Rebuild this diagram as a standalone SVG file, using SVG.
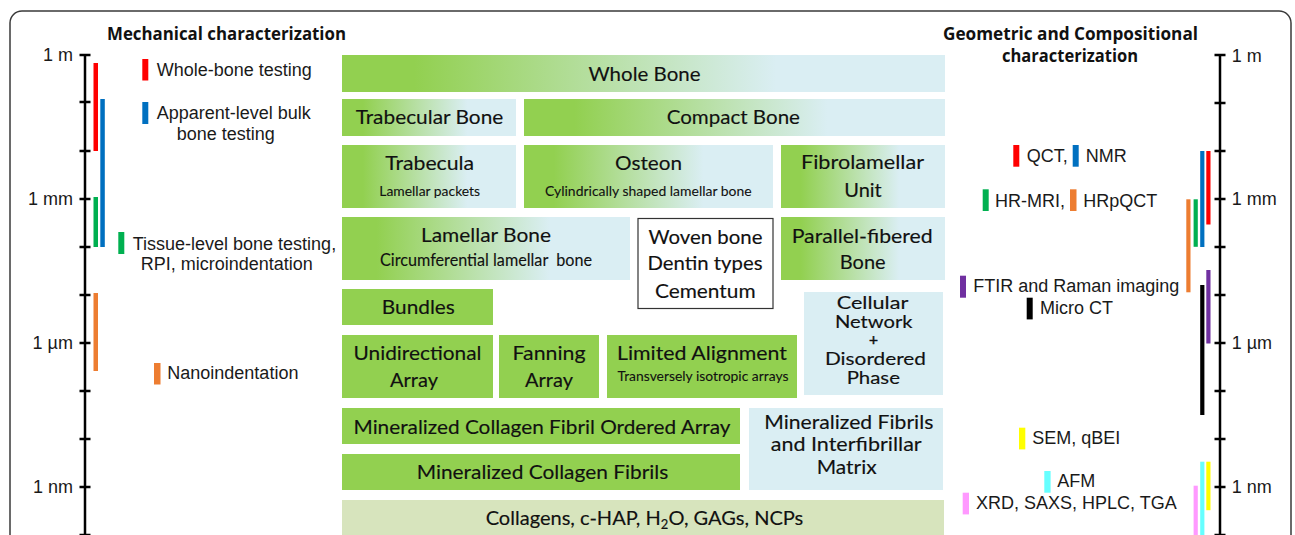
<svg xmlns="http://www.w3.org/2000/svg" width="1295" height="535" viewBox="0 0 1295 535">
<defs>
<linearGradient id="gb" x1="0" y1="0" x2="1" y2="0">
<stop offset="0" stop-color="#92D050"/>
<stop offset="0.12" stop-color="#92D050"/>
<stop offset="0.72" stop-color="#DAEEF3"/>
<stop offset="1" stop-color="#DAEEF3"/>
</linearGradient>
<style>
.g{fill:url(#gb)}
.s{fill:#92D050}
.b{fill:#DAEEF3}
.o{fill:#D7E4BD}
.w{fill:#fff;stroke:#333;stroke-width:1.2}
.t{font-family:Lato,"Open Sans",sans-serif;font-size:20px;fill:#111;stroke:#111;stroke-width:0.15;text-anchor:middle}
.sm{font-size:14px;stroke-width:0.1}
.c{font-size:17.5px}
.l{font-family:"Liberation Sans",Arial,sans-serif;font-size:18px;fill:#1a1a1a}
.r{text-anchor:end}
.h{font-family:"Open Sans","Noto Sans",sans-serif;font-weight:700;font-size:17px;fill:#111}
.ax{stroke:#000;stroke-width:2.5;fill:none}
</style>
</defs>
<rect x="10" y="11" width="1281" height="570" rx="12" fill="#fff" stroke="#3a3a3a" stroke-width="1.5"/>

<g id="titles">
<text class="h" x="107" y="40" textLength="239" lengthAdjust="spacingAndGlyphs">Mechanical characterization</text>
<text class="h" x="943" y="40" textLength="255" lengthAdjust="spacingAndGlyphs">Geometric and Compositional</text>
<text class="h" x="1002" y="62" textLength="136" lengthAdjust="spacingAndGlyphs">characterization</text>
</g>

<g id="left-scale">
<path class="ax" d="M85 55V540 M79.5 55H90.5 M79.5 102H90.5 M79.5 151H90.5 M79.5 199H90.5 M79.5 247H90.5 M79.5 295H90.5 M79.5 343H90.5 M79.5 391H90.5 M79.5 439H90.5 M79.5 487H90.5 M79.5 535H90.5"/>
<text class="l r" x="73" y="61">1 m</text>
<text class="l r" x="73" y="205">1 mm</text>
<text class="l r" x="73" y="349">1 µm</text>
<text class="l r" x="73" y="493">1 nm</text>
<rect x="93.5" y="63" width="4.5" height="88" fill="#FF0000"/>
<rect x="100.3" y="99" width="4.5" height="148" fill="#0070C0"/>
<rect x="93.5" y="197" width="4.5" height="50" fill="#00B050"/>
<rect x="93.5" y="293" width="4.5" height="78" fill="#ED7D31"/>
</g>

<g id="left-legend">
<rect x="142.3" y="59" width="6" height="21.5" fill="#FF0000"/>
<text class="l" x="156.7" y="76">Whole-bone testing</text>
<rect x="142.3" y="102" width="6" height="22" fill="#0070C0"/>
<text class="l" x="156.7" y="118.5">Apparent-level bulk</text>
<text class="l" x="176.7" y="140">bone testing</text>
<rect x="118.3" y="232" width="6" height="22" fill="#00B050"/>
<text class="l" x="132.7" y="250">Tissue-level bone testing,</text>
<text class="l" x="140.7" y="270">RPI, microindentation</text>
<rect x="154" y="363" width="6.5" height="21.5" fill="#ED7D31"/>
<text class="l" x="167.3" y="379">Nanoindentation</text>
</g>

<g id="right-scale">
<path class="ax" d="M1220 55V540 M1214.5 55H1225.5 M1214.5 103H1225.5 M1214.5 151H1225.5 M1214.5 199H1225.5 M1214.5 247H1225.5 M1214.5 295H1225.5 M1214.5 343H1225.5 M1214.5 391H1225.5 M1214.5 439H1225.5 M1214.5 487H1225.5 M1214.5 535H1225.5"/>
<text class="l" x="1231.7" y="61.5">1 m</text>
<text class="l" x="1231.7" y="205">1 mm</text>
<text class="l" x="1231.7" y="349">1 µm</text>
<text class="l" x="1231.7" y="493">1 nm</text>
<rect x="1206.3" y="151" width="4.2" height="73.5" fill="#FF0000"/>
<rect x="1200.2" y="151" width="4.2" height="96" fill="#0070C0"/>
<rect x="1193.6" y="199.3" width="4.2" height="47.5" fill="#00B050"/>
<rect x="1186.3" y="199.3" width="4.2" height="93" fill="#ED7D31"/>
<rect x="1206.3" y="270" width="4.2" height="73.5" fill="#7030A0"/>
<rect x="1200.2" y="285" width="4.2" height="130" fill="#000"/>
<rect x="1206.3" y="461.7" width="4.2" height="48.5" fill="#FFFF00"/>
<rect x="1200.2" y="461.7" width="4.2" height="80" fill="#66FFFF"/>
<rect x="1193.6" y="485.7" width="4.2" height="56" fill="#FF99FF"/>
</g>

<g id="right-legend">
<rect x="1013.3" y="145" width="6" height="21.7" fill="#FF0000"/>
<text class="l" x="1026.7" y="162.3">QCT,</text>
<rect x="1072.7" y="145" width="6" height="21.7" fill="#0070C0"/>
<text class="l" x="1085.7" y="162.3">NMR</text>
<rect x="982.7" y="189.3" width="6" height="21.7" fill="#00B050"/>
<text class="l" x="995" y="206.7">HR-MRI,</text>
<rect x="1070" y="189.3" width="6.5" height="21.7" fill="#ED7D31"/>
<text class="l" x="1083.3" y="206.7">HRpQCT</text>
<rect x="960" y="275.7" width="6" height="22" fill="#7030A0"/>
<text class="l" x="973.3" y="292.3">FTIR and Raman imaging</text>
<rect x="1026.7" y="297.7" width="6" height="21.7" fill="#000"/>
<text class="l" x="1040" y="314">Micro CT</text>
<rect x="1019" y="427.7" width="6.3" height="21.7" fill="#FFFF00"/>
<text class="l" x="1032.3" y="444.3">SEM, qBEI</text>
<rect x="1044.3" y="471" width="6.3" height="21.7" fill="#66FFFF"/>
<text class="l" x="1057.3" y="486.7">AFM</text>
<rect x="962.7" y="492.7" width="6.3" height="21.7" fill="#FF99FF"/>
<text class="l" x="976" y="509.3">XRD, SAXS, HPLC, TGA</text>
</g>

<g id="whole-bone"><rect class="g" x="342" y="55" width="603" height="37"/>
<text class="t" x="644.5" y="80.7" textLength="112" lengthAdjust="spacingAndGlyphs">Whole Bone</text></g>

<g id="trabecular-bone"><rect class="g" x="342" y="99" width="174" height="37"/>
<text class="t" x="429.5" y="124.3" textLength="147.6" lengthAdjust="spacingAndGlyphs">Trabecular Bone</text></g>

<g id="compact-bone"><rect class="g" x="524" y="99" width="421" height="37"/>
<text class="t" x="733.3" y="124.3" textLength="133.3" lengthAdjust="spacingAndGlyphs">Compact Bone</text></g>

<g id="trabecula"><rect class="g" x="342" y="145" width="174" height="63"/>
<text class="t" x="429.7" y="170" textLength="89" lengthAdjust="spacingAndGlyphs">Trabecula</text>
<text class="t sm" x="429.7" y="195.7" textLength="100.7" lengthAdjust="spacingAndGlyphs">Lamellar packets</text></g>

<g id="osteon"><rect class="g" x="524" y="145" width="249" height="63"/>
<text class="t" x="648.5" y="170" textLength="67" lengthAdjust="spacingAndGlyphs">Osteon</text>
<text class="t sm" x="648.3" y="196" textLength="206.7" lengthAdjust="spacingAndGlyphs">Cylindrically shaped lamellar bone</text></g>

<g id="fibrolamellar-unit"><rect class="g" x="781" y="145" width="164" height="63"/>
<text class="t" x="862.5" y="169.3" textLength="123" lengthAdjust="spacingAndGlyphs">Fibrolamellar</text>
<text class="t" x="863" y="196.7">Unit</text></g>

<g id="lamellar-bone"><rect class="g" x="342" y="217" width="288" height="63"/>
<text class="t" x="486" y="242.3" textLength="130" lengthAdjust="spacingAndGlyphs">Lamellar Bone</text>
<text class="t" x="486" y="265.7" style="font-size:17px;stroke-width:0.12" textLength="212" lengthAdjust="spacingAndGlyphs" xml:space="preserve">Circumferential lamellar  bone</text></g>

<g id="woven-bone"><rect class="w" x="638" y="218.5" width="135" height="90"/>
<text class="t" x="705.5" y="244" textLength="114" lengthAdjust="spacingAndGlyphs">Woven bone</text>
<text class="t" x="705" y="270" textLength="115" lengthAdjust="spacingAndGlyphs">Dentin types</text>
<text class="t" x="705.3" y="298.3" textLength="100.7" lengthAdjust="spacingAndGlyphs">Cementum</text></g>

<g id="parallel-fibered-bone"><rect class="g" x="781" y="217" width="164" height="63"/>
<text class="t" x="862.2" y="242.7" textLength="141" lengthAdjust="spacingAndGlyphs">Parallel-fibered</text>
<text class="t" x="862.7" y="269">Bone</text></g>

<g id="bundles"><rect class="s" x="342" y="289" width="151" height="36"/>
<text class="t" x="418.3" y="314.3" textLength="73" lengthAdjust="spacingAndGlyphs">Bundles</text></g>

<g id="unidirectional-array"><rect class="s" x="342" y="335" width="151" height="63"/>
<text class="t" x="417.5" y="360" textLength="128" lengthAdjust="spacingAndGlyphs">Unidirectional</text>
<text class="t" x="414" y="387.3">Array</text></g>

<g id="fanning-array"><rect class="s" x="499" y="335" width="100" height="63"/>
<text class="t" x="549" y="360" textLength="73" lengthAdjust="spacingAndGlyphs">Fanning</text>
<text class="t" x="549" y="387.3">Array</text></g>

<g id="limited-alignment"><rect class="s" x="607" y="335" width="190" height="63"/>
<text class="t" x="702" y="360" textLength="170" lengthAdjust="spacingAndGlyphs">Limited Alignment</text>
<text class="t sm" x="703" y="381" style="font-size:13.5px" textLength="171" lengthAdjust="spacingAndGlyphs">Transversely isotropic arrays</text></g>

<g id="cellular-network"><rect class="b" x="804" y="292" width="139" height="103"/>
<text class="t c" x="872.5" y="309.3" textLength="71.6" lengthAdjust="spacingAndGlyphs">Cellular</text>
<text class="t c" x="873.8" y="327.8" textLength="77.7" lengthAdjust="spacingAndGlyphs">Network</text>
<text class="t" x="873.5" y="345.3" style="font-size:15.5px;stroke-width:0.5">+</text>
<text class="t c" x="875.5" y="365.3" textLength="101" lengthAdjust="spacingAndGlyphs">Disordered</text>
<text class="t c" x="873.3" y="384" textLength="53.3" lengthAdjust="spacingAndGlyphs">Phase</text></g>

<g id="mcf-ordered-array"><rect class="s" x="342" y="408" width="398" height="36"/>
<text class="t" x="542" y="434" textLength="377" lengthAdjust="spacingAndGlyphs">Mineralized Collagen Fibril Ordered Array</text></g>

<g id="mcf"><rect class="s" x="342" y="454" width="398" height="36"/>
<text class="t" x="542.5" y="479" textLength="251.6" lengthAdjust="spacingAndGlyphs">Mineralized Collagen Fibrils</text></g>

<g id="mineralized-fibrils-matrix"><rect class="b" x="749" y="408" width="194" height="82"/>
<text class="t" x="848.8" y="429" textLength="169" lengthAdjust="spacingAndGlyphs">Mineralized Fibrils</text>
<text class="t" x="846.2" y="450.7" textLength="151" lengthAdjust="spacingAndGlyphs">and Interfibrillar</text>
<text class="t" x="846.7" y="474.3" textLength="60" lengthAdjust="spacingAndGlyphs">Matrix</text></g>

<g id="collagens"><rect class="o" x="342" y="500" width="602" height="45"/>
<text class="t" x="644.5" y="525" textLength="317.6" lengthAdjust="spacingAndGlyphs">Collagens, c-HAP, H<tspan font-size="13" dy="4">2</tspan><tspan dy="-4">O, GAGs, NCPs</tspan></text></g>
</svg>
